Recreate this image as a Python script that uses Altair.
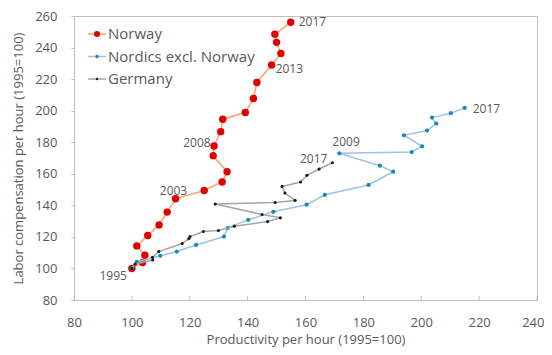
import altair as alt
import pandas as pd

# ---------------- data ----------------
years = list(range(1995, 2018))
series_names = ["Norway", "Nordics excl. Norway", "Germany"]

norway_x = [100, 103.7, 104.5, 101.7, 105.5, 109.4, 112.2, 115.1, 125.0, 131.2, 132.9, 128.1,
            128.4, 130.7, 131.4, 139.2, 142.0, 143.2, 148.3, 151.5, 150.0, 149.4, 154.9]
norway_y = [100, 103.7, 108.4, 114.3, 120.9, 127.6, 135.7, 144.2, 149.4, 154.8, 161.3, 171.5,
            177.6, 186.7, 194.6, 198.8, 207.7, 217.9, 228.9, 236.3, 243.3, 248.4, 256.0]

nordics_x = [100, 101.7, 109.8, 115.5, 122.2, 131.8, 133.1, 140.2, 148.9, 160.4, 166.7, 181.8,
             190.3, 185.7, 171.7, 196.7, 200.3, 194.0, 202.0, 205.2, 203.7, 210.2, 215.0]
nordics_y = [100, 104.1, 108.0, 110.7, 114.9, 120.2, 125.7, 130.8, 135.9, 140.4, 146.7, 152.9,
             161.3, 165.1, 173.0, 173.8, 177.4, 184.4, 187.4, 191.8, 195.6, 198.4, 201.8]

germany_x = [100, 101.1, 107.2, 107.1, 109.3, 117.4, 119.7, 120.1, 124.7, 129.9, 135.4, 146.9,
             151.3, 145.0, 128.8, 149.5, 156.4, 152.9, 151.9, 158.3, 160.5, 164.7, 169.3]
germany_y = [100, 102.7, 105.4, 107.1, 110.7, 115.8, 118.9, 120.2, 123.4, 124.0, 126.8, 129.7,
             132.1, 134.2, 140.8, 141.8, 143.1, 147.8, 152.0, 154.8, 159.0, 163.0, 167.0]

x_ticks = [80, 100, 120, 140, 160, 180, 200, 220, 240]
y_ticks = [80, 100, 120, 140, 160, 180, 200, 220, 240, 260]

label_series = ["Norway", "Norway", "Norway", "Norway", "Norway",
                "Nordics excl. Norway", "Nordics excl. Norway", "Germany"]
label_years = [1995, 2003, 2008, 2013, 2017, 2009, 2017, 2017]

# ---------------- styles ----------------
FONT = "Open Sans"
GREY = "#595959"
line_colors = {"Norway": "#F8A46E", "Nordics excl. Norway": "#9DC3E6", "Germany": "#A5A5A5"}
point_colors = {"Norway": "#E00000", "Nordics excl. Norway": "#168CBC", "Germany": "#1A1A1A"}
point_sizes = {"Norway": 55, "Nordics excl. Norway": 18, "Germany": 10}
legend_sizes = {"Norway": 36, "Nordics excl. Norway": 12, "Germany": 6}
# (align, dx, dy) for each year label
label_style = [("right", -5, 8), ("right", -17, 0), ("right", -10, 11), ("left", 4, 4),
               ("left", 8, 0), ("left", -7, -11), ("left", 8, 1), ("right", -5, -4)]

W, H = 463, 284

rows = []
for name, xs, ys in zip(series_names, [norway_x, nordics_x, germany_x],
                        [norway_y, nordics_y, germany_y]):
    for yr, xv, yv in zip(years, xs, ys):
        rows.append({"series": name, "year": yr, "prod": xv, "comp": yv})
df = pd.DataFrame(rows)

x_scale = alt.Scale(domain=[80, 240], nice=False, zero=False)
y_scale = alt.Scale(domain=[80, 260], nice=False, zero=False)

last_x = f"datum.value == {x_ticks[-1]}"
x_axis = alt.Axis(values=x_ticks, title="Productivity per hour (1995=100)", grid=False,
                  domain=False, ticks=False, labelPadding=16, labelFlush=False,
                  labelAlign={"condition": {"test": last_x, "value": "right"}, "value": "center"},
                  labelOffset={"condition": {"test": last_x, "value": 7}, "value": 0},
                  labelFontSize=13, labelColor=GREY, labelFont=FONT,
                  titleFont=FONT, titleFontSize=13, titleFontWeight="normal",
                  titleColor=GREY, titleY=39, titleBaseline="middle")
y_axis = alt.Axis(values=y_ticks, title="Labor compensation per hour (1995=100)", grid=False,
                  domain=False, tickSize=3, tickColor="#BFBFBF", labelPadding=14,
                  labelFlush=False, labelFontSize=13, labelColor=GREY, labelFont=FONT,
                  titleFont=FONT, titleFontSize=13, titleFontWeight="normal",
                  titleColor=GREY, titleX=-56, titleY=H / 2, titleBaseline="middle",
                  titleAngle=270)

X = alt.X("prod:Q", scale=x_scale, axis=x_axis)
Y = alt.Y("comp:Q", scale=y_scale, axis=y_axis)

layers = []

# inside ticks for x axis
xt = pd.DataFrame({"prod": x_ticks})
layers.append(alt.Chart(xt).mark_rule(color="#BFBFBF", strokeWidth=1).encode(
    x=X, y=alt.value(H), y2=alt.value(H - 4)))

for name in series_names:
    base = alt.Chart(df).transform_filter(alt.datum.series == name)
    layers.append(base.mark_line(color=line_colors[name], strokeWidth=1.5).encode(
        x=X, y=Y, order=alt.Order("year:Q")))
    layers.append(base.mark_circle(color=point_colors[name], size=point_sizes[name],
                                   opacity=1).encode(x=X, y=Y))

# year labels
for s, yr, (align, dx, dy) in zip(label_series, label_years, label_style):
    layers.append(alt.Chart(df).transform_filter(
        (alt.datum.series == s) & (alt.datum.year == yr)
    ).mark_text(align=align, dx=dx, dy=dy, baseline="middle", fontSize=12,
                color=GREY, font=FONT).encode(x=X, y=Y, text=alt.Text("year:N")))

# legend (top-left inside)
for i, name in enumerate(series_names):
    ly = 18 + 22.5 * i
    layers.append(alt.Chart(pd.DataFrame({"s": [name]})).mark_rule(
        color=line_colors[name], strokeWidth=1.5).encode(
        x=alt.value(14), x2=alt.value(32), y=alt.value(ly)))
    layers.append(alt.Chart(pd.DataFrame({"s": [name]})).mark_circle(
        color=point_colors[name], size=legend_sizes[name], opacity=1).encode(
        x=alt.value(23), y=alt.value(ly)))
    layers.append(alt.Chart(pd.DataFrame({"s": [name]})).mark_text(
        align="left", baseline="middle", fontSize=15, color=GREY, font=FONT).encode(
        x=alt.value(34), y=alt.value(ly), text="s:N"))

chart = alt.layer(*layers).properties(
    width=W, height=H,
    padding={"left": 66, "top": 8, "right": 7, "bottom": 47},
    autosize=alt.AutoSizeParams(type="none"),
).configure_view(stroke="#BFBFBF", strokeWidth=1)

chart.save("out.html", embed_options={"renderer": "svg", "actions": False})
